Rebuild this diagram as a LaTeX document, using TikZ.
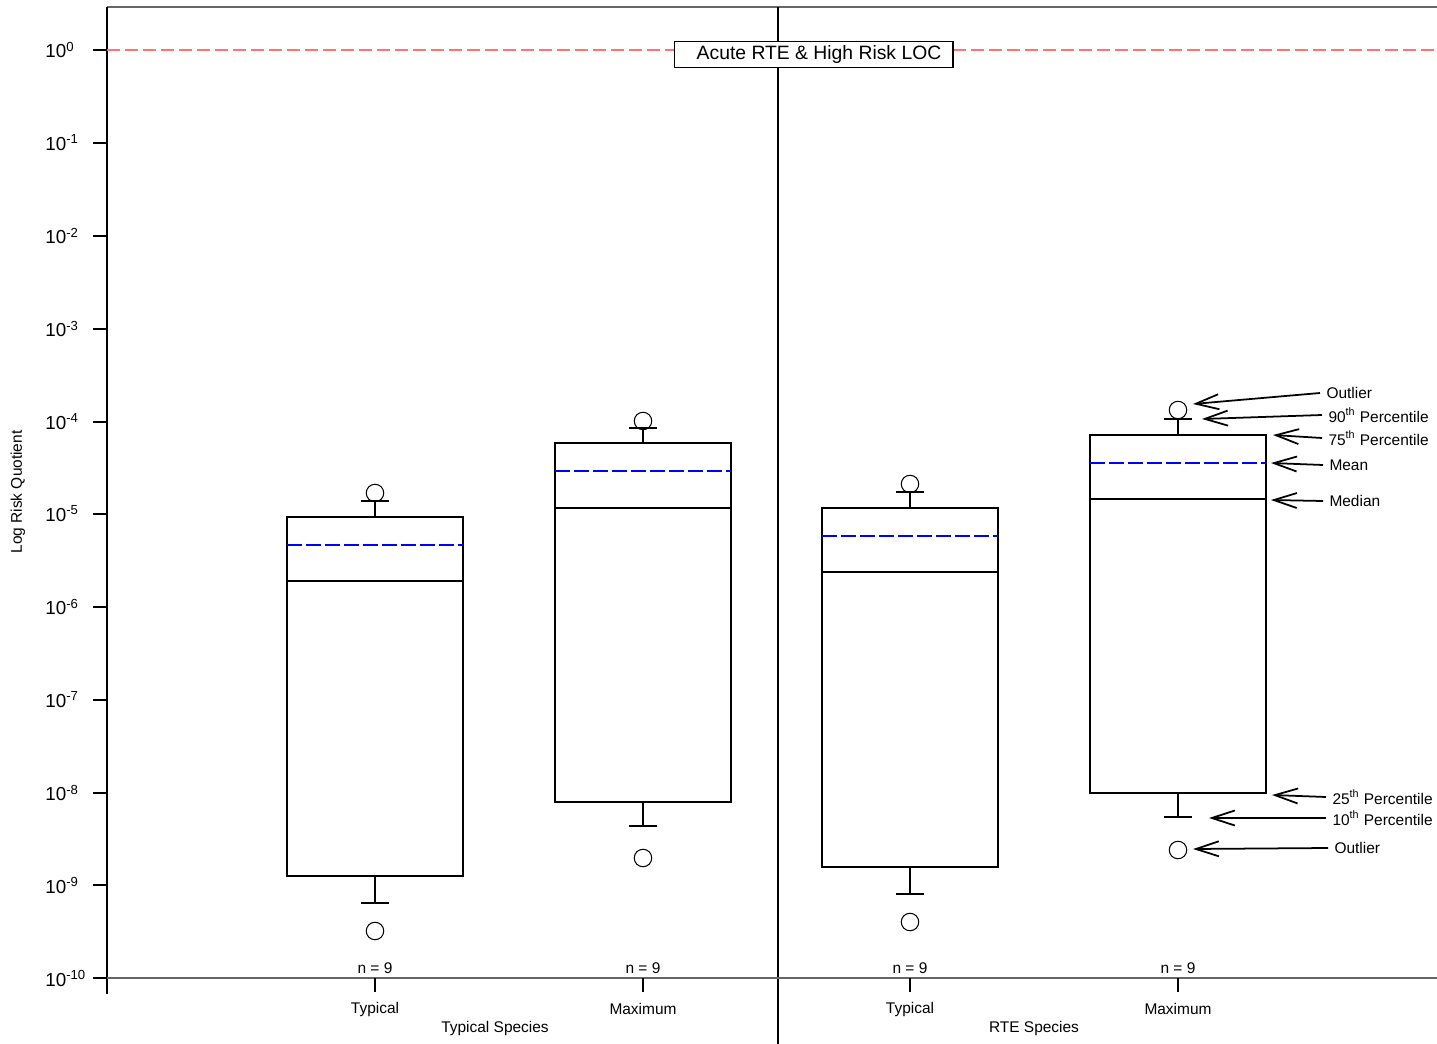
\documentclass[tikz,border=0pt]{standalone}
\usepackage{fontspec}
\setmainfont{Liberation Sans}
\usetikzlibrary{arrows.meta}
\begin{document}
\begin{tikzpicture}[
    x=0.02cm, y=-0.02cm,
    font=\fontsize{8.8}{10}\selectfont,
    axis/.style={draw=black!60, line width=0.8pt},
    frame/.style={draw=black, line width=0.6pt},
    box/.style={draw=black, line width=0.6pt},
    meanline/.style={draw=blue, line width=0.6pt, dash pattern=on 0.3cm off 0.08cm},
    locline/.style={draw=red!55, line width=0.8pt, dash pattern=on 0.26cm off 0.1cm},
    outlier/.style={circle, draw, line width=0.6pt, minimum size=0.35cm, inner sep=0pt},
    decade/.style={font=\fontsize{10.7}{12}\selectfont, anchor=west, inner sep=0pt},
    note/.style={anchor=west, inner xsep=3.5pt, inner ysep=1pt},
    arrow/.style={line width=1pt, -{Straight Barb[length=0.46cm, width=0.3cm]}}
]
    \useasboundingbox (0,0) rectangle (1437,1044);

    % Frame and axes
    \draw[axis] (107,7) -- (1437,7);
    \draw[frame] (107,7) -- (107,994);
    \draw[frame] (778,7) -- (778,1044);
    \draw[axis] (93,978) -- (1437,978);

    % Level of concern
    \draw[locline] (107,50) -- (1437,50);
    \node[draw, fill=white, line width=0.6pt, minimum width=5.58cm, minimum height=0.51cm, inner sep=0pt,
          font=\fontsize{11}{12}\selectfont] (loc) at (813.5,54.5) {\hspace*{0.22cm}Acute RTE \& High Risk LOC};

    % Decade ticks
    \foreach \y/\e in {50/0, 143/-1, 236/-2, 329/-3, 422/-4, 514/-5, 607/-6, 700/-7, 793/-8, 885/-9, 978/-10} {
        \draw[frame] (93,\y) -- (107,\y);
        \node[decade] at (45,\y) {10\textsuperscript{\e}};
    }
    \node[rotate=90] (ylabel) at (18,492) {Log Risk Quotient};

    % Category ticks and labels
    \foreach \x/\name in {375/Typical, 643/Maximum, 910/Typical, 1178/Maximum} {
        \draw[frame] (\x,978) -- (\x,992);
        \node at (\x,1009) {\name};
        \node at (\x,968) {n = 9};
    }
    \node (typgroup) at (495,1028) {Typical Species};
    \node (rtegroup) at (1034,1028) {RTE Species};

    % Typical species, typical
    \draw[box] (287,517) rectangle (463,876);
    \draw[meanline] (287,545) -- (463,545);
    \draw[box] (287,581) -- (463,581);
    \draw[box] (375,517) -- (375,501) (361,501) -- (389,501);
    \draw[box] (375,876) -- (375,903) (361,903) -- (389,903);
    \node[outlier] (o1hi) at (375,493) {};
    \node[outlier] (o1lo) at (375,931) {};

    % Typical species, maximum
    \draw[box] (555,443) rectangle (731,802);
    \draw[meanline] (555,471) -- (731,471);
    \draw[box] (555,508) -- (731,508);
    \draw[box] (643,443) -- (643,428) (629,428) -- (657,428);
    \draw[box] (643,802) -- (643,826) (629,826) -- (657,826);
    \node[outlier] (o2hi) at (643,421) {};
    \node[outlier] (o2lo) at (643,858) {};

    % RTE species, typical
    \draw[box] (822,508) rectangle (998,867);
    \draw[meanline] (822,536) -- (998,536);
    \draw[box] (822,572) -- (998,572);
    \draw[box] (910,508) -- (910,492) (896,492) -- (924,492);
    \draw[box] (910,867) -- (910,894) (896,894) -- (924,894);
    \node[outlier] (o3hi) at (910,484) {};
    \node[outlier] (o3lo) at (910,922) {};

    % RTE species, maximum
    \draw[box] (1090,435) rectangle (1266,793);
    \draw[meanline] (1090,463) -- (1266,463);
    \draw[box] (1090,499) -- (1266,499);
    \draw[box] (1178,435) -- (1178,419) (1164,419) -- (1192,419);
    \draw[box] (1178,793) -- (1178,817) (1164,817) -- (1192,817);
    \node[outlier] (o4hi) at (1178,410) {};
    \node[outlier] (o4lo) at (1178,850) {};

    % Legend labels
    \node[note] (nout1) at (1320,393) {Outlier};
    \node[note] (n90) at (1322,415) {90\textsuperscript{th} Percentile};
    \node[note] (n75) at (1322,438) {75\textsuperscript{th} Percentile};
    \node[note] (nmean) at (1323,465) {Mean};
    \node[note] (nmed) at (1323,501) {Median};
    \node[note] (n25) at (1326,797) {25\textsuperscript{th} Percentile};
    \node[note] (n10) at (1326,818) {10\textsuperscript{th} Percentile};
    \node[note] (nout2) at (1328,848) {Outlier};

    % Arrow targets
    \coordinate (tout1) at (1193,404);
    \coordinate (t90) at (1202,419);
    \coordinate (t75) at (1273,435);
    \coordinate (tmean) at (1271,463);
    \coordinate (tmed) at (1271,500);
    \coordinate (t25) at (1272,795);
    \coordinate (t10) at (1209,818);
    \coordinate (tout2) at (1193,849);

    % Arrows
    \draw[arrow] (nout1.west) -- (tout1);
    \draw[arrow] (n90.west) -- (t90);
    \draw[arrow] (n75.west) -- (t75);
    \draw[arrow] (nmean.west) -- (tmean);
    \draw[arrow] (nmed.west) -- (tmed);
    \draw[arrow] (n25.west) -- (t25);
    \draw[arrow] (n10.west) -- (t10);
    \draw[arrow] (nout2.west) -- (tout2);
\end{tikzpicture}
\end{document}
